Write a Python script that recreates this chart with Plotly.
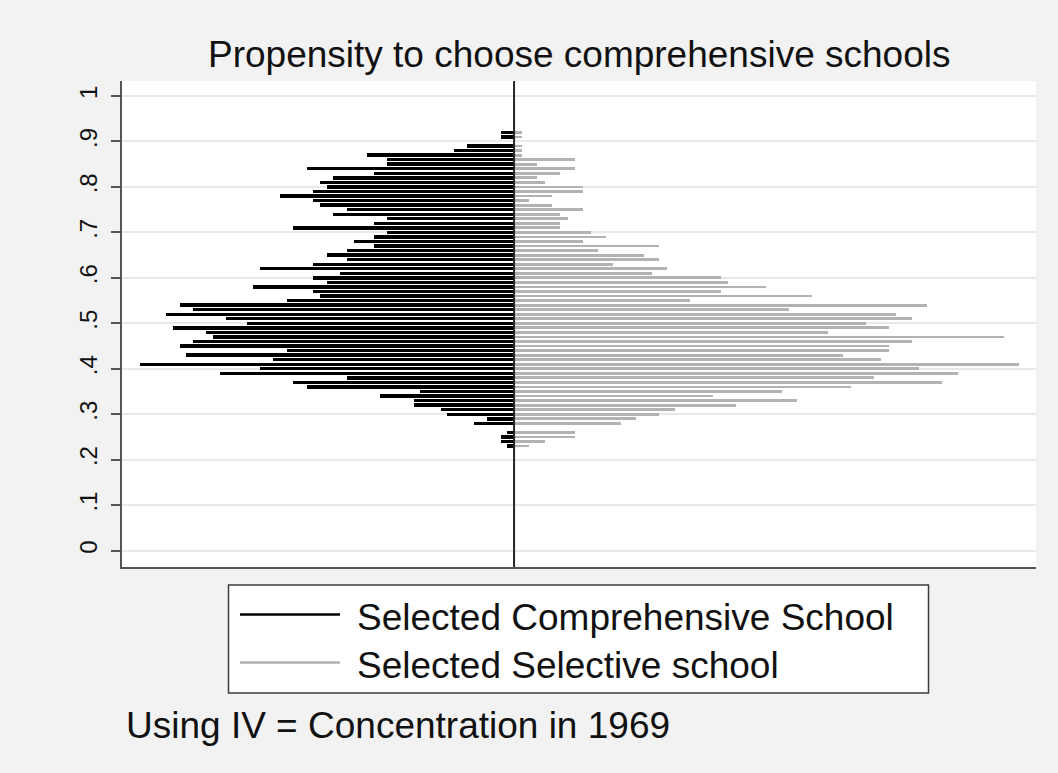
import plotly.graph_objects as go

# Histogram bins (bin centres) of the predicted propensity, width 0.01
bin_width = 0.01
bin_centers = [
    0.23, 0.24, 0.25, 0.26, 0.27, 0.28, 0.29, 0.30, 0.31, 0.32,
    0.33, 0.34, 0.35, 0.36, 0.37, 0.38, 0.39, 0.40, 0.41, 0.42,
    0.43, 0.44, 0.45, 0.46, 0.47, 0.48, 0.49, 0.50, 0.51, 0.52,
    0.53, 0.54, 0.55, 0.56, 0.57, 0.58, 0.59, 0.60, 0.61, 0.62,
    0.63, 0.64, 0.65, 0.66, 0.67, 0.68, 0.69, 0.70, 0.71, 0.72,
    0.73, 0.74, 0.75, 0.76, 0.77, 0.78, 0.79, 0.80, 0.81, 0.82,
    0.83, 0.84, 0.85, 0.86, 0.87, 0.88, 0.89, 0.90, 0.91, 0.92,
]

# Frequencies per bin for each group
comp_counts = [
    1, 2, 2, 1, 0, 6, 4, 10, 11, 15,
    15, 20, 14, 31, 33, 25, 44, 38, 56, 36,
    49, 34, 50, 48, 45, 46, 51, 40, 43, 52,
    48, 50, 34, 29, 30, 39, 28, 30, 26, 38,
    30, 25, 28, 25, 21, 24, 21, 19, 33, 21,
    19, 27, 25, 29, 30, 35, 30, 28, 29, 27,
    21, 31, 19, 19, 22, 9, 7, 0, 2, 2,
]
sel_counts = [
    2, 4, 8, 8, 0, 14, 16, 19, 21, 29,
    37, 26, 35, 44, 56, 47, 58, 53, 66, 48,
    43, 49, 49, 52, 64, 41, 49, 46, 52, 50,
    36, 54, 23, 39, 27, 33, 28, 27, 18, 20,
    13, 19, 17, 11, 19, 9, 12, 10, 6, 6,
    7, 6, 9, 5, 2, 5, 9, 9, 4, 3,
    6, 8, 3, 8, 1, 1, 1, 0, 1, 1,
]

y_tick_values = [0, 0.1, 0.2, 0.3, 0.4, 0.5, 0.6, 0.7, 0.8, 0.9, 1]
y_tick_labels = ["0", ".1", ".2", ".3", ".4", ".5", ".6", ".7", ".8", ".9", "1"]

series_names = ["Selected Comprehensive School", "Selected Selective school"]
title_text = "Propensity to choose comprehensive schools"
note_text = "Using IV = Concentration in 1969"


def density(counts):
    total = sum(counts)
    return [c / (total * bin_width) for c in counts]


comp_density = density(comp_counts)
sel_density = density(sel_counts)

FONT = "Liberation Sans, Arial, Helvetica, sans-serif"
AXIS_COLOR = "#555555"
COMP_COLOR = "#000000"
SEL_COLOR = "#b2b2b2"
TEXT_SIZE = 37

fig = go.Figure()

# Comprehensive-school histogram mirrored to the left of zero
fig.add_trace(go.Bar(
    y=bin_centers,
    x=[-d for d in comp_density],
    orientation="h",
    width=0.0075,
    marker=dict(color=COMP_COLOR, line=dict(width=0)),
    name=series_names[0],
    showlegend=False,
))
# Selective-school histogram to the right of zero
fig.add_trace(go.Bar(
    y=bin_centers,
    x=sel_density,
    orientation="h",
    width=0.0062,
    marker=dict(color=SEL_COLOR, line=dict(width=0)),
    name=series_names[1],
    showlegend=False,
))

# Plot-area geometry in pixels, used to place the hand-built legend
W, H = 1058, 773
ML, MR, MT, MB = 122, 22, 81, 206
PW, PH = W - ML - MR, H - MT - MB


def px(xp):
    return (xp - ML) / PW


def py(yp):
    return (H - MB - yp) / PH


shapes = [
    # zero line separating the two groups
    dict(type="line", xref="x", yref="paper", x0=0, x1=0, y0=0, y1=1,
         line=dict(color="#262626", width=2), layer="above"),
    # legend frame
    dict(type="rect", xref="paper", yref="paper",
         x0=px(228.5), x1=px(928.5), y0=py(585), y1=py(693),
         line=dict(color="#3c3c3c", width=1.5), fillcolor="#ffffff"),
    # legend keys
    dict(type="line", xref="paper", yref="paper",
         x0=px(240), x1=px(340), y0=py(614.5), y1=py(614.5),
         line=dict(color=COMP_COLOR, width=2.5)),
    dict(type="line", xref="paper", yref="paper",
         x0=px(240), x1=px(340), y0=py(662.5), y1=py(662.5),
         line=dict(color=SEL_COLOR, width=2.5)),
]

annotations = [
    dict(text=title_text, xref="paper", yref="paper", x=0.5, y=py(55),
         xanchor="center", yanchor="middle", showarrow=False,
         font=dict(family=FONT, size=TEXT_SIZE, color="#111111")),
    dict(text=series_names[0], xref="paper", yref="paper", x=px(355), y=py(617),
         xanchor="left", yanchor="middle", showarrow=False,
         font=dict(family=FONT, size=TEXT_SIZE, color="#111111")),
    dict(text=series_names[1], xref="paper", yref="paper", x=px(355), y=py(665),
         xanchor="left", yanchor="middle", showarrow=False,
         font=dict(family=FONT, size=TEXT_SIZE, color="#111111")),
    dict(text=note_text, xref="paper", yref="paper", x=px(124), y=py(725),
         xanchor="left", yanchor="middle", showarrow=False,
         font=dict(family=FONT, size=TEXT_SIZE, color="#111111")),
]

fig.update_layout(
    width=W,
    height=H,
    margin=dict(l=ML, r=MR, t=MT, b=MB, pad=0),
    paper_bgcolor="#f2f2f2",
    plot_bgcolor="#ffffff",
    barmode="overlay",
    bargap=0,
    showlegend=False,
    font=dict(family=FONT, color="#111111"),
    shapes=shapes,
    annotations=annotations,
    xaxis=dict(
        range=[-3.2, 4.26],
        showticklabels=False,
        ticks="",
        showgrid=False,
        zeroline=False,
        showline=True,
        linecolor=AXIS_COLOR,
        linewidth=1.5,
        fixedrange=True,
    ),
    yaxis=dict(
        range=[-0.036, 1.033],
        tickmode="array",
        tickvals=y_tick_values,
        ticktext=y_tick_labels,
        tickangle=-90,
        ticks="outside",
        ticklen=9,
        tickwidth=1.5,
        tickcolor=AXIS_COLOR,
        tickfont=dict(family=FONT, size=24, color="#111111"),
        ticklabelstandoff=5,
        showline=True,
        linecolor=AXIS_COLOR,
        linewidth=1.5,
        showgrid=True,
        gridcolor="#e8e8e8",
        gridwidth=1.5,
        zeroline=False,
        fixedrange=True,
    ),
)

fig.write_html("out.html")
